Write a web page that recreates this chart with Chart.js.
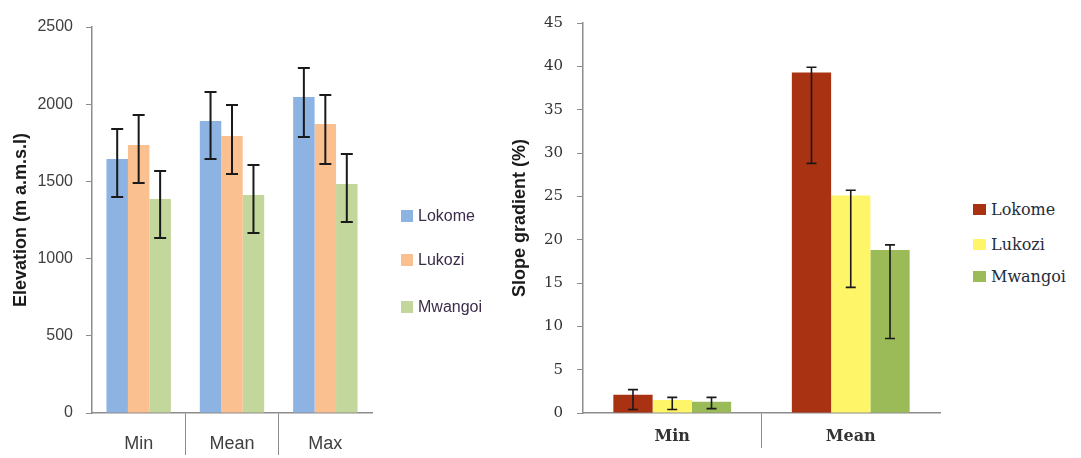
<!DOCTYPE html>
<html>
<head>
<meta charset="utf-8">
<script src="https://cdn.jsdelivr.net/npm/chart.js@4.4.1/dist/chart.umd.min.js"></script>
<style>
  body { margin: 0; background: #fff; width: 1081px; height: 458px; overflow: hidden; position: relative; }
  canvas { position: absolute; top: 0; }
  .legend { position: absolute; }
  .legend div { position: absolute; white-space: nowrap; }
  .legend span { display: inline-block; vertical-align: middle; }
</style>
</head>
<body>
<canvas id="elevChart" width="380" height="458" style="left:0"></canvas>
<canvas id="slopeChart" width="480" height="458" style="left:470px"></canvas>
<div id="elevLegend" class="legend"></div>
<div id="slopeLegend" class="legend"></div>
<script>
// Donnees - altitude (m a.m.s.l)
const elevCategories = ['Min', 'Mean', 'Max'];
const seriesNames = ['Lokome', 'Lukozi', 'Mwangoi'];
const lokomeElev = [1645, 1891, 2047];
const lokomeElevLow = [1399, 1645, 1788];
const lokomeElevHigh = [1839, 2079, 2234];
const lukoziElev = [1736, 1794, 1872];
const lukoziElevLow = [1490, 1548, 1613];
const lukoziElevHigh = [1930, 1995, 2060];
const mwangoiElev = [1386, 1412, 1483];
const mwangoiElevLow = [1133, 1166, 1237];
const mwangoiElevHigh = [1567, 1606, 1677];

// Donnees - pente (%)
const slopeCategories = ['Min', 'Mean'];
const lokomeSlope = [2.1, 39.3];
const lokomeSlopeLow = [0.4, 28.8];
const lokomeSlopeHigh = [2.7, 39.9];
const lukoziSlope = [1.5, 25.1];
const lukoziSlopeLow = [0.4, 14.5];
const lukoziSlopeHigh = [1.8, 25.7];
const mwangoiSlope = [1.3, 18.8];
const mwangoiSlopeLow = [0.5, 8.6];
const mwangoiSlopeHigh = [1.8, 19.4];

const elevColors = ['#8DB3E2', '#FAC090', '#C3D69B'];
const slopeColors = ['#A93213', '#FFF568', '#9BBB59'];

// Plugin pour les barres d'erreur
const errorBars = {
    id: 'errorBars',
    afterDatasetsDraw(chart, args, opts) {
        const ctx = chart.ctx;
        const yScale = chart.scales.y;
        ctx.save();
        ctx.strokeStyle = opts.color;
        ctx.lineWidth = opts.width;
        chart.data.datasets.forEach((ds, i) => {
            const meta = chart.getDatasetMeta(i);
            meta.data.forEach((bar, j) => {
                const top = yScale.getPixelForValue(ds.high[j]);
                const bottom = yScale.getPixelForValue(ds.low[j]);
                const x = bar.x;
                ctx.beginPath();
                ctx.moveTo(x, top); ctx.lineTo(x, bottom);
                ctx.moveTo(x - opts.cap, top); ctx.lineTo(x + opts.cap, top);
                ctx.moveTo(x - opts.cap, bottom); ctx.lineTo(x + opts.cap, bottom);
                ctx.stroke();
            });
        });
        ctx.restore();
    }
};

function makeDataset(label, data, low, high, color, pct) {
    return {
        label: label,
        data: data,
        low: low,
        high: high,
        backgroundColor: color,
        borderWidth: 0,
        barPercentage: 1,
        categoryPercentage: pct
    };
}

// Seulement les separateurs entre categories
function separatorColor(c) {
    return (c.type !== 'tick' || c.index === 0) ? 'rgba(0,0,0,0)' : '#8c8c8c';
}

// Graphique de gauche : altitude
new Chart(document.getElementById('elevChart'), {
    type: 'bar',
    data: {
        labels: elevCategories,
        datasets: [
            makeDataset(seriesNames[0], lokomeElev, lokomeElevLow, lokomeElevHigh, elevColors[0], 0.69),
            makeDataset(seriesNames[1], lukoziElev, lukoziElevLow, lukoziElevHigh, elevColors[1], 0.69),
            makeDataset(seriesNames[2], mwangoiElev, mwangoiElevLow, mwangoiElevHigh, elevColors[2], 0.69)
        ]
    },
    options: {
        responsive: false,
        animation: false,
        layout: { padding: { top: 27, right: 8, left: 0, bottom: 0 } },
        plugins: {
            legend: { display: false },
            tooltip: { enabled: false },
            errorBars: { color: '#1a1a1a', width: 2, cap: 6 }
        },
        scales: {
            x: {
                afterFit: (s) => { s.height = 45; },
                border: { color: '#8c8c8c', width: 1.5 },
                grid: { drawOnChartArea: false, tickLength: 42, color: separatorColor },
                ticks: { padding: -22, color: '#404040', font: { family: 'Liberation Sans', size: 18 } }
            },
            y: {
                min: 0,
                max: 2500,
                afterFit: (s) => { s.width = 92; },
                border: { color: '#8c8c8c', width: 1.5 },
                grid: { drawOnChartArea: false, tickLength: 6, color: '#8c8c8c' },
                ticks: {
                    stepSize: 500,
                    padding: 13,
                    color: '#404040',
                    font: { family: 'Liberation Sans', size: 16 },
                    callback: (v) => String(v)
                },
                title: {
                    display: true,
                    text: 'Elevation (m a.m.s.l)',
                    color: '#1a1a1a',
                    padding: { top: 10, bottom: 0 },
                    font: { family: 'Liberation Sans', size: 18, weight: 'bold' }
                }
            }
        }
    },
    plugins: [errorBars]
});

// Graphique de droite : pente
new Chart(document.getElementById('slopeChart'), {
    type: 'bar',
    data: {
        labels: slopeCategories,
        datasets: [
            makeDataset(seriesNames[0], lokomeSlope, lokomeSlopeLow, lokomeSlopeHigh, slopeColors[0], 0.66),
            makeDataset(seriesNames[1], lukoziSlope, lukoziSlopeLow, lukoziSlopeHigh, slopeColors[1], 0.66),
            makeDataset(seriesNames[2], mwangoiSlope, mwangoiSlopeLow, mwangoiSlopeHigh, slopeColors[2], 0.66)
        ]
    },
    options: {
        responsive: false,
        animation: false,
        layout: { padding: { top: 19, right: 10, left: 0, bottom: 0 } },
        plugins: {
            legend: { display: false },
            tooltip: { enabled: false },
            errorBars: { color: '#1a1a1a', width: 1.6, cap: 5 }
        },
        scales: {
            x: {
                afterFit: (s) => { s.height = 45; },
                border: { color: '#8c8c8c', width: 1.5 },
                grid: { drawOnChartArea: false, tickLength: 35, color: separatorColor },
                ticks: { padding: -21, color: '#333', font: { family: 'DejaVu Serif', size: 16, weight: 'bold' } }
            },
            y: {
                min: 0,
                max: 45,
                afterFit: (s) => { s.width = 113; },
                border: { color: '#8c8c8c', width: 1.5 },
                grid: { drawOnChartArea: false, tickLength: 6, color: '#8c8c8c' },
                ticks: { stepSize: 5, padding: 14, color: '#333', font: { family: 'DejaVu Serif', size: 15 } },
                title: {
                    display: true,
                    text: 'Slope gradient (%)',
                    color: '#1a1a1a',
                    padding: { top: 39, bottom: 0 },
                    font: { family: 'Liberation Sans', size: 18, weight: 'bold' }
                }
            }
        }
    },
    plugins: [errorBars]
});

// Legendes
function buildLegend(id, left, tops, colors, box, font, color) {
    const el = document.getElementById(id);
    el.style.left = left + 'px';
    seriesNames.forEach((name, i) => {
        const row = document.createElement('div');
        row.style.top = tops[i] + 'px';
        row.style.font = font;
        row.style.color = color;
        row.innerHTML = '<span style="width:' + box[0] + 'px;height:' + box[1] + 'px;background:' + colors[i] +
            ';margin-right:5px"></span><span>' + name + '</span>';
        el.appendChild(row);
    });
}
buildLegend('elevLegend', 401, [206, 250, 297], elevColors, [12, 12], '16px "Liberation Sans"', '#3b2d4a');
buildLegend('slopeLegend', 973, [199, 234, 266], slopeColors, [13, 11], '16px "DejaVu Serif"', '#1f2d3d');
</script>
</body>
</html>
